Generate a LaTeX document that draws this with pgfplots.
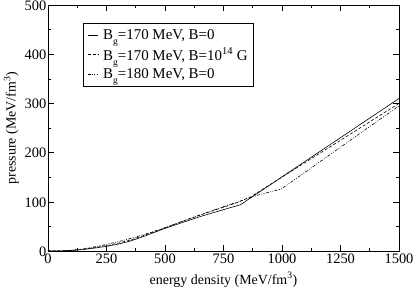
\documentclass[border=0pt]{standalone}
\usepackage{pgfplots}
\pgfplotsset{compat=1.18}
\usepackage{fontspec}
\setmainfont{Liberation Serif}
\begin{document}
\begin{tikzpicture}
\begin{axis}[
  scale only axis,
  width=351bp, height=246bp,
  xmin=0, xmax=1500, ymin=0, ymax=500,
  xtick={0,250,500,750,1000,1250,1500},
  ytick={0,100,200,300,400,500},
  minor tick num=1,
  tick align=inside,
  major tick length=6bp,
  minor tick length=3bp,
  axis line style={line width=0.9pt},
  tick style={line width=0.6pt, black},
  /pgf/number format/assume math mode=true,
  /pgf/number format/1000 sep={},
  tick label style={font=\fontsize{14.5}{15}\selectfont},
  label style={font=\fontsize{14}{15}\selectfont},
  xticklabel style={inner sep=1bp, yshift=-2bp},
  yticklabel style={inner sep=1.5bp, yshift=-0.5bp},
  xlabel={energy density (MeV/fm\textsuperscript{3})},
  ylabel={pressure (MeV/fm\textsuperscript{3})},
  xlabel style={yshift=-4bp},
  ylabel style={yshift=1bp},
  legend style={at={(0.1,0.926)}, anchor=north west, draw=black, line width=0.6pt,
    font=\fontsize{15}{16}\selectfont, row sep=3bp, inner sep=4bp,
    /tikz/every even column/.append style={column sep=2bp}},
  legend cell align=left,
  legend image code/.code={\draw[#1] (0cm,0cm) -- (0.36cm,0cm);},
]
\addplot[black, line width=0.6pt] coordinates {
(0,0) (50,0.2) (100,1) (150,3) (200,6) (250,9.5) (300,14) (350,20) (400,28)
(450,37) (500,46) (550,54) (600,62) (650,70) (700,77) (750,84) (800,91)
(822,94) (1500,310)};
\addlegendentry{\hspace{3bp}B\raisebox{-0.8ex}{\fontsize{9.5}{9.5}\selectfont g}=170 MeV, B=0}
\addplot[black, line width=0.6pt, dash pattern=on 3pt off 2pt] coordinates {
(0,0) (50,0.2) (100,1.2) (150,3.5) (200,7) (250,11) (300,16) (350,22) (400,30)
(450,38.5) (500,47) (550,56) (600,64.5) (650,73) (700,81) (750,89) (800,97)
(866,110) (1500,300)};
\addlegendentry{\hspace{3bp}B\raisebox{-0.8ex}{\fontsize{9.5}{9.5}\selectfont g}=170 MeV, B=10\textsuperscript{14} G}
\addplot[black, line width=0.6pt, dash pattern=on 3pt off 1.5pt on 0.8pt off 1.5pt on 0.8pt off 1.5pt] coordinates {
(0,0) (70,0) (100,1.5) (150,4.5) (200,8.5) (250,13.5) (300,19) (350,25) (400,32)
(450,39.5) (500,47.5) (550,56) (600,65) (650,73.5) (700,82) (750,90) (800,98)
(850,106) (900,114) (997,126) (1500,295)};
\addlegendentry{\hspace{3bp}B\raisebox{-0.8ex}{\fontsize{9.5}{9.5}\selectfont g}=180 MeV, B=0}
\end{axis}
\pgfresetboundingbox
\path (current axis.south west) ++(-48bp,-38bp) coordinate (bbA);
\path (current axis.north east) ++(16bp,5bp) coordinate (bbB);
\useasboundingbox (bbA) rectangle (bbB);
\end{tikzpicture}
\end{document}
